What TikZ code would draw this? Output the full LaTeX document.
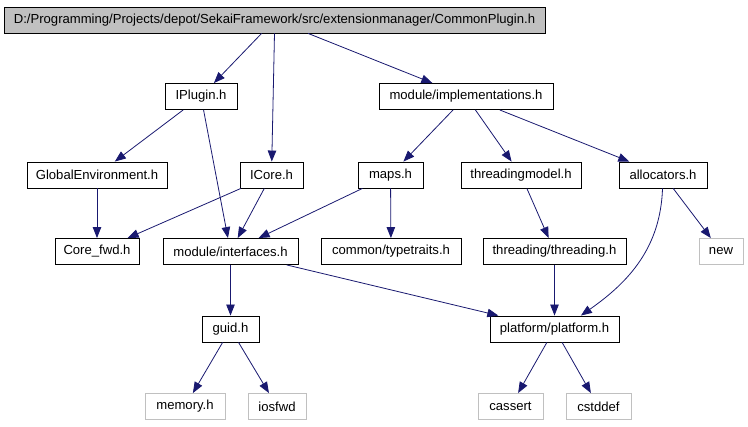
\documentclass[tikz,border=0pt]{standalone}
\usepackage{fontspec}
\setmainfont{Liberation Sans}
\usepackage{tikz}
\usetikzlibrary{arrows.meta}
\definecolor{edgeblue}{HTML}{191970}
\definecolor{extgray}{HTML}{C0C0C0}

\begin{document}
\begin{tikzpicture}[x=1pt,y=-1pt,font=\fontsize{13.1}{15}\selectfont,
  hdr/.style={draw=black,line width=.9pt,fill=white,minimum height=26,inner sep=0pt},
  ext/.style={draw=extgray,line width=.9pt,fill=white,minimum height=26,inner sep=0pt},
  dep/.style={edgeblue,line width=.8pt,-{Triangle[length=11pt,width=8.5pt]}}]
\useasboundingbox(0,0)rectangle(748,427);
\node[hdr,fill=extgray,minimum width=541](cp)at(274.5,20){D:/Programming/Projects/depot/SekaiFramework/src/extensionmanager/CommonPlugin.h};
\node[hdr,minimum width=72](ip)at(201,96.5){IPlugin.h};\node[hdr,minimum width=174](mi)at(466,96.5){module/implementations.h};
\node[hdr,minimum width=140](ge)at(97,175){GlobalEnvironment.h};\node[hdr,minimum width=63](ic)at(271.5,175){ICore.h};\node[hdr,minimum width=65](mp)at(390.5,175){maps.h};
\node[hdr,minimum width=120](tm)at(521,175){threadingmodel.h};\node[hdr,minimum width=88](al)at(663,175){allocators.h};
\node[hdr,minimum width=84](cf)at(97,251.5){Core\_fwd.h};\node[hdr,minimum width=135](mf)at(230.5,251.5){module/interfaces.h};\node[hdr,minimum width=140](tt)at(391,251.5){common/typetraits.h};
\node[hdr,minimum width=143](th)at(554.5,251.5){threading/threading.h};\node[ext,minimum width=44](nw)at(721,251.5){new};
\node[hdr,minimum width=57](gu)at(230.5,329){guid.h};\node[hdr,minimum width=129](pf)at(554.5,329){platform/platform.h};
\node[ext,minimum width=80](me)at(185,406.5){memory.h};\node[ext,minimum width=58](io)at(277,406.5){iosfwd};\node[ext,minimum width=65](ca)at(510.5,406.5){cassert};\node[ext,minimum width=65](cs)at(598.5,406.5){cstddef};
\draw[dep](cp)--(ip);\draw[dep](cp.-90)--(ic);\draw[dep](cp)--(mi);
\draw[dep](ip)--(ge);\draw[dep](ip)--(mf);\draw[dep](ge)--(cf);\draw[dep](ic)--(cf);\draw[dep](ic)--(mf);
\draw[dep](mi)--(mp);\draw[dep](mi)--(tm);\draw[dep](mi)--(al);
\draw[dep](mp)--(mf);\draw[dep](mp)--(tt);\draw[dep](tm)--(th);\draw[dep](al)--(nw);
\draw[dep](al.-92)to[out=-92,in=35](pf.27);\draw[dep](mf)--(pf);\draw[dep](th)--(pf);
\draw[dep](mf)--(gu);\draw[dep](gu)--(me);\draw[dep](gu)--(io);\draw[dep](pf)--(ca);\draw[dep](pf)--(cs);
\end{tikzpicture}
\end{document}
